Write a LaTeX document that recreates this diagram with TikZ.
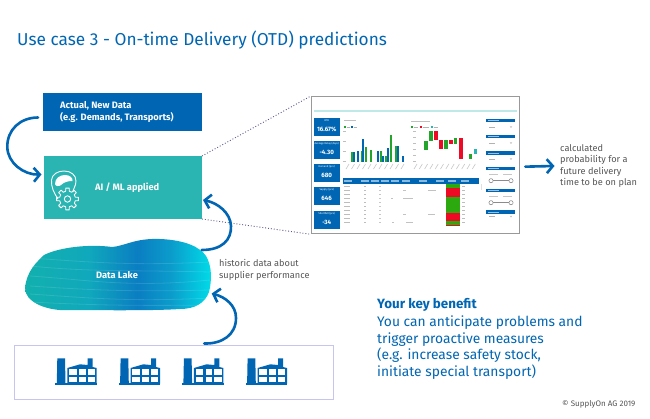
\documentclass[tikz,border=0pt]{standalone}
\usepackage{fontspec}
\setmainfont{Fira Sans}
\usetikzlibrary{arrows.meta,calc}
\definecolor{sblue}{HTML}{0066B3}
\definecolor{steal}{HTML}{2AB5B2}
\definecolor{sgrey}{HTML}{555555}
\definecolor{sgreen}{HTML}{2CA90F}
\definecolor{sred}{HTML}{EE0A24}
\definecolor{bargreen}{HTML}{22A52A}
\definecolor{lakea}{HTML}{12B0AE}
\definecolor{lakeb}{HTML}{10A8BC}
\definecolor{lakec}{HTML}{0A7EC2}
\definecolor{laked}{HTML}{0B9CCB}
\definecolor{lakee}{HTML}{00DCE8}
\pgfdeclarehorizontalshading{lakeshade}{100bp}{
 color(0bp)=(lakea); color(25bp)=(lakea); color(42bp)=(lakeb); color(55bp)=(lakec); color(64bp)=(laked); color(75bp)=(lakee); color(100bp)=(lakee)}
\tikzset{
 x=1pt,y=-1pt,
 flow/.style={draw=sblue,line width=2.6pt,line cap=round,-{Straight Barb[length=6pt,width=14pt,line width=2.6pt]}},
 guide/.style={draw=black!30!blue!30!gray,line width=0.9pt,dotted},
 blockbox/.style={anchor=north west,inner sep=0pt,outer sep=0pt,fill=#1},
 whitebold/.style={text=white,font=\bfseries\fontsize{9.3}{12}\selectfont,align=left},
 plain/.style={text=sgrey,font=\fontsize{9.2}{11.6}\selectfont,align=left,anchor=west,inner sep=0pt},
 kpi/.style={fill=sblue,draw=none},
 tiny/.style={text=white,font=\bfseries\fontsize{5.6}{6}\selectfont,inner sep=0pt},
 factory/.pic={
  \fill[sblue] (0.3,25.3) rectangle (42,26.7);
  \fill[sblue] (2.3,0.3)--(10,0.3)--(10.5,25.5)--(1.8,25.5)--cycle;
  \fill[sblue] (12.3,10)--(25,6.3)--(32.7,7)--(32.7,0.3)--(37.7,0.3)--(37.7,9)--(41.7,10)--(41.7,25.5)--(12.3,25.5)--cycle;
  \foreach \cx/\cw in {14/7.7,24/6.7,32.7/7.3}{
   \fill[white] (\cx,11.3) rectangle ++(\cw,5.7);
   \fill[white] (\cx,19.3) rectangle ++(\cw,4.4);}
 }
}
\begin{document}
\begin{tikzpicture}
\useasboundingbox (0,0) rectangle (650,418);
\fill[white] (0,0) rectangle (650,418);
\node[anchor=west,inner sep=0pt,text=sblue,font=\fontsize{17.25}{20}\selectfont] (title) at (17,40) {Use case 3 - On-time Delivery (OTD) predictions};

% blocks
\node[blockbox=sblue,minimum width=159pt,minimum height=38pt] (newdata) at (43,93) {};
\node[whitebold,anchor=west,inner sep=0pt] (newdatatext) at (60,112) {Actual, New Data\\(e.g. Demands, Transports)};
\node[blockbox=steal,minimum width=158pt,minimum height=63pt] (ai) at (44,156) {};
\node[whitebold,anchor=west,inner sep=0pt] (aitext) at (95,187.5) {AI / ML applied};

% AI icon
\draw[white,line width=0.9pt,line join=round] (58,199)..controls (54,193) and (51,187)..(51.5,180)
 ..controls (52,174) and (58,171)..(64,171)..controls (71,171) and (76,175)..(76,181)
 ..controls (76,186) and (73,189)..(73,192);
\fill[white] (55,184)..controls (55,178) and (60,175)..(65,175)..controls (70,175) and (73,178)..(72.5,181)
 ..controls (68,181) and (64,182)..(61,185)..controls (59,187) and (55,186)..(55,184)--cycle;
\begin{scope}[shift={(67.5,199)}]
\draw[white,line width=0.9pt,line join=round]
 \foreach \a in {0,45,...,315}{
  ($(\a-13:8)$)--($(\a-9:11)$)--($(\a+9:11)$)--($(\a+13:8)$)--($(\a+32:8)$)
 };
\draw[white,line width=0.9pt] (0,0) circle[radius=3.2];
\end{scope}

% Data lake
\coordinate (lakeout) at (201.7,250);
\coordinate (lakein) at (211.7,293.5);
\path[shade,shading=lakeshade] (25,288)..controls (27,270) and (37,262)..(44,255)
 ..controls (60,247) and (90,244)..(112,247)..controls (125,246) and (135,238)..(160,239)
 ..controls (185,240) and (200,247)..(206,256)..controls (212,266) and (212,280)..(209,292)
 ..controls (205,303) and (195,309)..(180,309)..controls (150,311) and (90,310)..(60,310)
 ..controls (45,309) and (25,302)..(25,288)--cycle;
\begin{scope}
\clip (25,288)..controls (27,270) and (37,262)..(44,255)
 ..controls (60,247) and (90,244)..(112,247)..controls (125,246) and (135,238)..(160,239)
 ..controls (185,240) and (200,247)..(206,256)..controls (212,266) and (212,280)..(209,292)
 ..controls (205,303) and (195,309)..(180,309)..controls (150,311) and (90,310)..(60,310)
 ..controls (45,309) and (25,302)..(25,288)--cycle;
\foreach \ya/\yb/\yc in {258/262/266,266/272/270,276/280/288,286/290/292,294/298/302,302/305/306}{
 \draw[white,opacity=.12,line width=0.8pt] (30,\ya)..controls (90,\yb) and (130,\yc)..(210,\yb);}
\end{scope}
\node[whitebold,anchor=center,inner sep=0pt] (laketext) at (117,275.5) {Data Lake};

% factories
\node[draw=black!25!blue!25,draw opacity=.9,minimum width=319pt,minimum height=54pt,anchor=north west,inner sep=0pt,line width=1.2pt] (plants) at (14,344.5) {};
\foreach \fx in {55,118.3,181.6,245.3}{\pic at (\fx,358) {factory};}

% dashboard
\node[draw=black!40,line width=1.3pt,minimum width=208pt,minimum height=137pt,anchor=north west,inner sep=0pt] (dash) at (311,96) {};
\fill[steal!30!white] (314,110) rectangle (517,112);
\foreach \yy/\lab/\val in {117.5/OTD/16.67\%,140.8/Average Delay (days)/-4.30,164/Demand (pcs)/680,187/Supply (pcs)/646,210.7/Shortfall (pcs)/-34}{
 \fill[kpi] (314,\yy) rectangle ++(25.5,18);
 \node[tiny,font=\fontsize{2.6}{3}\selectfont] at (326.7,\yy+3) {\lab};
 \node[tiny,font=\bfseries\fontsize{6.2}{7}\selectfont] at (326.7,\yy+11.5) {\val};
}
% bar chart
\fill[black!25] (344,119.5) rectangle (356,120.5);
\fill[bargreen] (344,126) rectangle (346,128); \fill[black!30] (346.5,126.5) rectangle (350,127.5);
\fill[sblue] (351,126) rectangle (353,128); \fill[black!30] (353.5,126.5) rectangle (357,127.5);
\foreach \xa/\xb/\yt/\cc in {350.7/352.7/151.7/bargreen,352.7/354.7/151.7/sblue,357.3/359.3/151/sblue,361/363/151/bargreen,362.3/364.3/139/sblue,365.3/367.3/146.7/bargreen,370/372.3/150/bargreen,377.3/379.3/150.7/sblue,380/382/150.7/bargreen,382/384/156/sblue,385/387.3/156/bargreen,387.3/389.3/147.7/sblue,389.7/392/135.3/bargreen,395/397/145.7/bargreen,397/399/145.7/sblue,401.7/403.7/155.7/sblue}{
 \fill[\cc] (\xa,\yt) rectangle (\xb,161.7);}
\foreach \xl in {346,351.5,...,403}{\draw[black!22,line width=.6pt] (\xl,169)--(\xl+3,164);}
\foreach \yl in {131,141,151,161}{\fill[black!25] (343,\yl) rectangle (346,\yl+1);}
% waterfall
\fill[black!25] (411,121) rectangle (430,122);
\fill[bargreen] (411,126) rectangle (413,128); \fill[black!30] (413.5,126.5) rectangle (418,127.5);
\fill[sred] (420,126) rectangle (422,128); \fill[black!30] (422.5,126.5) rectangle (429,127.5);
\fill[steal] (431,126) rectangle (433,128); \fill[black!30] (433.5,126.5) rectangle (438,127.5);
\foreach \xa/\xb/\ya/\yb/\cc in {423.7/427.7/140.7/150/bargreen,428.7/432.7/131/140.7/bargreen,433.7/437.7/131/140/sred,438.7/442.7/139.7/149.3/sred,443.7/447.7/140/149.3/bargreen,448.7/452.7/140/144.3/sred,453.7/457/137.7/144.3/bargreen,458.7/462.7/137.7/159/sred,468.7/472.3/154/159/bargreen,473.7/477.3/149.3/154/steal}{
 \fill[\cc] (\xa,\ya) rectangle (\xb,\yb);}
\foreach \xl in {414,419.3,...,476}{\draw[black!22,line width=.6pt] (\xl,169)--(\xl+3,164);}
\foreach \yl in {131,137,143,149,155,161}{\fill[black!25] (413,\yl) rectangle (416,\yl+1);}
% table
\fill[sblue] (343.3,178.3) rectangle (479,184);
\foreach \xl in {344,361,371,381,391,402,419,436,448,461}{\fill[white,opacity=.55] (\xl,180.3) rectangle (\xl+8,181.5);}
\fill[black!12] (480.5,184) rectangle (482,190);
\fill[sgreen] (445.7,184) rectangle (460,188.3);
\fill[sred] (445.7,188.3) rectangle (460,196.7);
\fill[sgreen] (445.7,196.7) rectangle (460,212.7);
\fill[sred] (445.7,212.7) rectangle (460,221);
\fill[sgreen] (445.7,221) rectangle (460,225);
\fill[sred] (445.7,225) rectangle (460,226);
\foreach \ty in {186,190,194,198,202,206,210,214,218,222}{
 \fill[black!26] (344,\ty-.5) rectangle (350,\ty+.3);
 \fill[black!26] (364,\ty-.5) rectangle (366,\ty+.3);
 \fill[black!22] (379,\ty-.5) rectangle (380.5,\ty+.3);
 \fill[black!26] (461.5,\ty-.5) rectangle (465,\ty+.3);
}
\foreach \tx/\ty/\tw in {403/198/3,403/214/3,391/198/2,404/198/2,392/222/2,406/198/7,406/222/7,428/190/8,428/214/7,403/190/3}{
 \fill[black!24] (\tx,\ty-.5) rectangle ++(\tw,.8);}
% slicers
\foreach \hy in {119,135,151.3,167,188.7,210.3}{
 \fill[sblue] (486.3,\hy) rectangle (515.3,\hy+3.3);
 \fill[white,opacity=.6] (487.5,\hy+1.2) rectangle (499,\hy+2.1);}
\foreach \dy in {127,143,159,216.5}{
 \fill[black!30] (489,\dy-.4) rectangle (495,\dy+.4);
 \draw[black!35,line width=.4pt] (510,\dy-.7)--(511,\dy+.5)--(512,\dy-.7);}
\foreach \sy in {180.7,202.7}{
 \fill[black!22] (489,\sy-6.5) rectangle (498,\sy-5.7);
 \fill[black!22] (503,\sy-6.5) rectangle (512,\sy-5.7);
 \draw[black!45,line width=.5pt] (491,\sy)--(511,\sy);
 \draw[black!50,fill=white,line width=.5pt] (491,\sy) circle[radius=2.1];
 \draw[black!50,fill=white,line width=.5pt] (511,\sy) circle[radius=2.1];}

% dotted guides
\draw[guide] (ai.north east)--(dash.north west);
\draw[guide] (ai.south east)--(dash.south west);

% texts
\node[plain] (hist) at (219,270) {historic data about\\supplier performance};
\coordinate (outend) at (554.5,166);
\node[plain] (calc) at (560,166) {calculated\\probability for a\\future delivery\\time to be on plan};
\node[anchor=west,inner sep=0pt,text=sblue,font=\bfseries\fontsize{13.4}{15}\selectfont] (keyhead) at (377,304.5) {Your key benefit};
\node[anchor=north west,inner sep=0pt,text=sblue,align=left,font=\fontsize{13.8}{16.6}\selectfont] (keybody) at (377,315.5) {You can anticipate problems and\\trigger proactive measures\\(e.g. increase safety stock,\\initiate special transport)};
\node[anchor=west,inner sep=0pt,text=sgrey,font=\fontsize{8}{9}\selectfont] (copy) at (562,404) {© SupplyOn AG 2019};

% arrows
\draw[flow] ([xshift=-5pt,yshift=-5.5pt]newdata.west) .. controls (20,117.5) and (7,130) .. (7.3,147) .. controls (7.5,163) and (24,175) .. ([xshift=-2.5pt,yshift=13pt]ai.west);
\draw[flow] (lakeout) .. controls (222,250) and (231.5,240) .. (231,226) .. controls (230.5,213) and (218,203) .. ([xshift=1pt,yshift=-12.5pt]ai.east);
\draw[flow] ([xshift=30pt,yshift=1pt]plants.north) .. controls (222,344) and (236,335) .. (236,318) .. controls (236,305) and (225,297) .. (lakein);
\draw[flow] ([xshift=5pt,yshift=-1.5pt]dash.east) -- (outend);
\end{tikzpicture}
\end{document}
